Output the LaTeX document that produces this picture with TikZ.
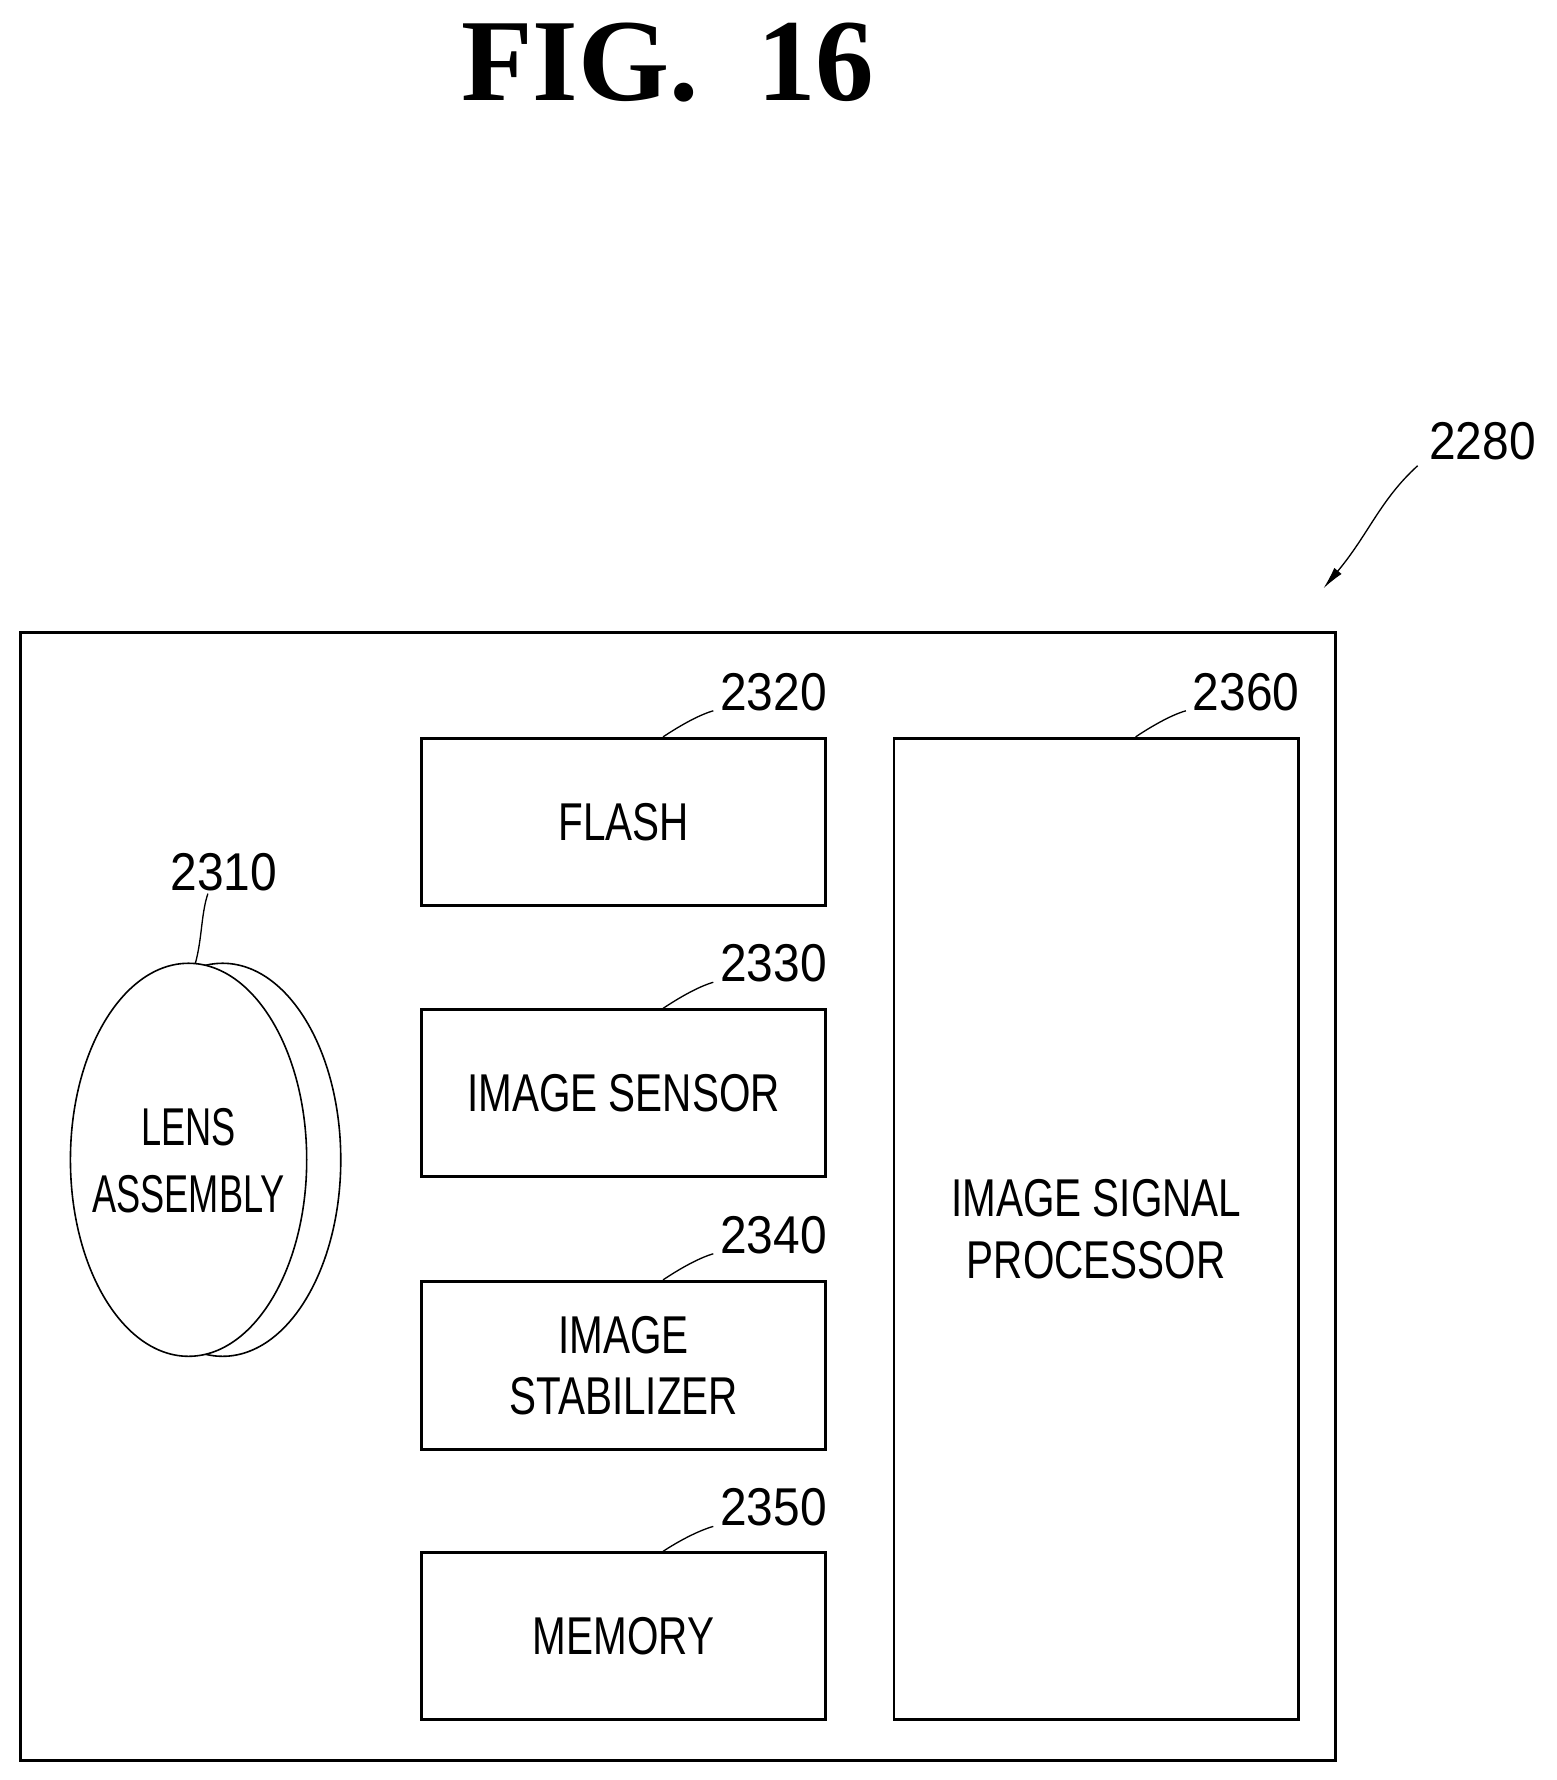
\documentclass[tikz,border=0pt]{standalone}
\usepackage{fontspec}
\usetikzlibrary{arrows.meta}
\setmainfont{Liberation Serif}
\newfontfamily\lab[FakeStretch=0.76]{Liberation Sans}
\newfontfamily\labn[FakeStretch=0.68]{Liberation Sans}
\newfontfamily\labd[FakeStretch=0.9]{Liberation Sans}
\begin{document}
\begin{tikzpicture}[x=0.03cm,y=-0.03cm,
  blk/.style={draw,line width=2.2pt,inner sep=0},
  txt/.style={font=\lab\fontsize{40}{46}\selectfont,align=center},
  num/.style={font=\labd\fontsize{40}{46}\selectfont},
  lead/.style={line width=1pt}]
\useasboundingbox (0,0) rectangle (1370,1567);
\node[font=\bfseries\fontsize{88}{90}\selectfont] (title) at (588,55) {FIG.\ \ 16};
\draw[line width=2.2pt] (18,557) rectangle (1176,1550);
\coordinate (outer) at (1165,518);
\node[blk,minimum width=356*0.03cm,minimum height=147*0.03cm] (flash) at (549,723.5) {};
\node[txt] at (flash) {FLASH};
\node[blk,minimum width=356*0.03cm,minimum height=147*0.03cm] (sens) at (549,962.5) {};
\node[txt] at (sens) {IMAGE SENSOR};
\node[blk,minimum width=356*0.03cm,minimum height=148*0.03cm] (stab) at (549,1202) {};
\node[txt] at (stab) {IMAGE\\STABILIZER};
\node[blk,minimum width=356*0.03cm,minimum height=147*0.03cm] (mem) at (549,1440.5) {};
\node[txt] at (mem) {MEMORY};
\node[blk,minimum width=356*0.03cm,minimum height=864*0.03cm] (isp) at (965,1082) {};
\node[txt] at (isp) {IMAGE SIGNAL\\PROCESSOR};
% lens
\draw[line width=1.2pt] (196,1021) ellipse [x radius=104, y radius=173];
\draw[line width=1.2pt,fill=white] (166,1021) ellipse [x radius=104, y radius=173];
\coordinate (lens) at (172,848);
\node[txt,font=\labn\fontsize{40}{50}\selectfont] at (166,1022) {LENS\\ASSEMBLY};
% numbers
\node[num] (n2320) at (681,609) {2320};
\node[num] (n2330) at (681,848) {2330};
\node[num] (n2340) at (681,1087) {2340};
\node[num] (n2350) at (681,1327) {2350};
\node[num] (n2360) at (1097,609) {2360};
\node[num] (n2310) at (197,768) {2310};
\node[num] (n2280) at (1305,388) {2280};
\foreach \b/\n in {flash/n2320,sens/n2330,stab/n2340,mem/n2350,isp/n2360}
  \draw[lead] ([shift={(214,0)}]\b.north west) .. controls +(12,-8) and +(-14,4) .. ([shift={(-2,-4)}]\n.south west);
\draw[lead] (lens) .. controls +(6,-22) and +(-6,18) .. ([shift={(-14,-2)}]n2310.south);
\draw[lead,-{Latex[length=0.6cm,width=0.25cm]}] (1248,410) .. controls (1215,440) and (1205,470) .. (outer);
\end{tikzpicture}
\end{document}
